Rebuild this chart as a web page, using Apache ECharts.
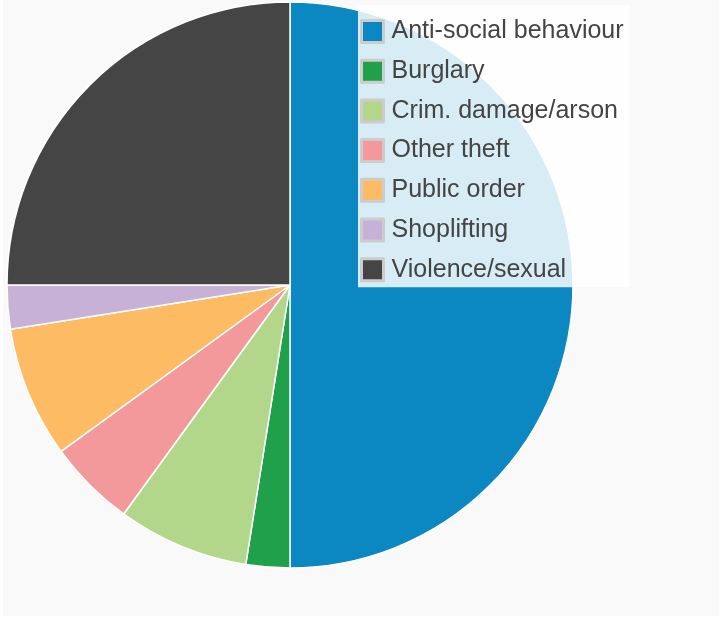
<!DOCTYPE html>
<html>
<head>
<meta charset="utf-8">
<script src="https://cdn.jsdelivr.net/npm/echarts@6/dist/echarts.min.js"></script>
<style>
    html, body { margin: 0; padding: 0; background: #fff; }
    #chart { position: absolute; left: 3px; top: 0; width: 716px; height: 616px; background: #f9f9f9; }
</style>
</head>
<body>
<div id="chart"></div>
<script>
var categories = ["Anti-social behaviour", "Burglary", "Crim. damage/arson", "Other theft", "Public order", "Shoplifting", "Violence/sexual"];
var counts = [20, 1, 3, 2, 3, 1, 10];
var colours = ["#0b87c2", "#20a04a", "#b2d78a", "#f4999b", "#fdbb64", "#c8b1d6", "#454545"];

var myChart = echarts.init(document.getElementById('chart'));

var pieData = categories.map(function (name, i) {
    return {name: name, value: counts[i], itemStyle: {color: colours[i]}};
});

option = {
    animation: false,
    legend: {
        orient: 'vertical',
        left: 355,
        top: 5,
        padding: [14, 6, 5, 2],
        backgroundColor: 'rgba(255,255,255,0.84)',
        icon: 'rect',
        itemWidth: 22,
        itemHeight: 22,
        itemGap: 14.7,
        itemStyle: {borderColor: '#cccccc', borderWidth: 3},
        textStyle: {fontFamily: 'Liberation Sans, Arial, sans-serif', fontSize: 25, lineHeight: 22, color: '#444', padding: [0, 0, 0, 3]},
        data: categories
    },
    series: [
        {
            type: 'pie',
            center: [287, 285],
            radius: 283,
            startAngle: 90,
            clockwise: true,
            label: {show: false},
            labelLine: {show: false},
            itemStyle: {borderColor: '#ffffff', borderWidth: 1.5},
            emphasis: {disabled: true},
            data: pieData
        }
    ]
};
myChart.setOption(option);
</script>
</body>
</html>
